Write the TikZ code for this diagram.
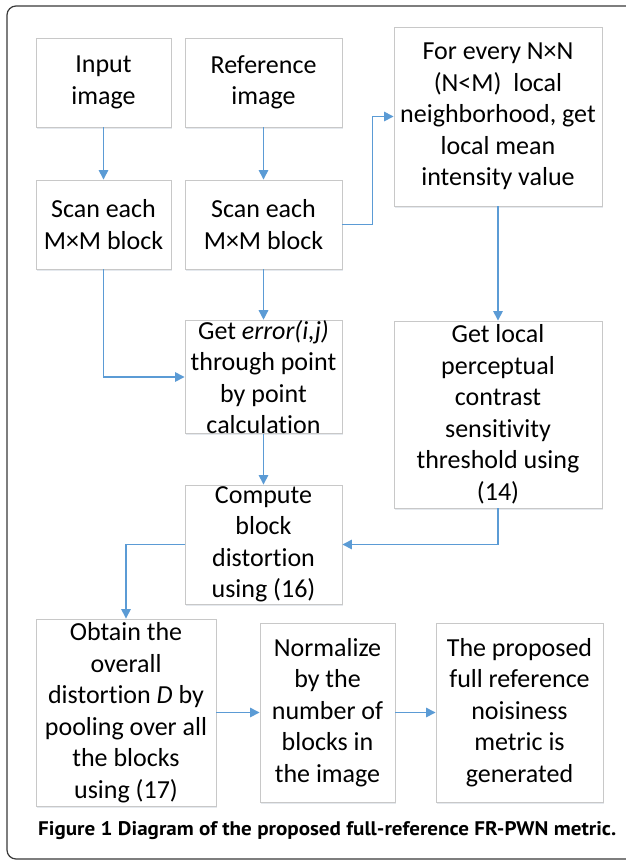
\documentclass[tikz,border=0pt]{standalone}
\usepackage{fontspec}
\setmainfont{Carlito}[RawFeature={-liga;-clig;-calt;-dlig}]
\newfontfamily\capfont{PT Sans}
\usetikzlibrary{arrows.meta,shadows}
\definecolor{arrowblue}{HTML}{5B9BD5}
\definecolor{boxgray}{HTML}{C8C8C8}
\definecolor{framegray}{HTML}{3A3A3A}
\begin{document}
\begin{tikzpicture}[x=1pt,y=-1pt,
  box/.style={draw=boxgray, line width=0.9pt, fill=white, inner sep=0pt, align=center,
    font=\fontsize{26}{31.5}\selectfont,
    drop shadow={shadow xshift=1pt, shadow yshift=-1.5pt, opacity=0.3, fill=arrowblue!40!gray!60}},
  conn/.style={draw=arrowblue, line width=1.4pt, -{Triangle[length=9.5pt,width=9.5pt]}}]
\useasboundingbox (0,0) rectangle (626,863);
\fill[white] (0,0) rectangle (626,863);
\draw[line width=1.2pt, draw=framegray, rounded corners=9pt] (7,6) rectangle (680,859);

\node[box, minimum width=135pt, minimum height=89pt] (input) at (103.5,82.5) {Input\\image};
\node[box, minimum width=157pt, minimum height=89pt] (ref) at (263.5,82.5) {Reference\\image};
\node[box, minimum width=208pt, minimum height=179pt] (forevery) at (498,116.5)
  {For every N×N\\(N<M)\ \ local\\neighborhood, get\\local mean\\intensity value};
\node[box, minimum width=135pt, minimum height=89pt] (scan1) at (103.5,224.5) {Scan each\\M×M block};
\node[box, minimum width=157pt, minimum height=89pt] (scan2) at (263.5,224.5) {Scan each\\M×M block};
\node[box, minimum width=157pt, minimum height=112pt] (geterr) at (263.5,377)
  {Get \textit{error(i,j)}\\through point\\by point\\calculation};
\node[box, minimum width=208pt, minimum height=187pt] (getlocal) at (498,414.5)
  {Get local\\perceptual\\contrast\\sensitivity\\threshold using\\(14)};
\node[box, minimum width=157pt, minimum height=119pt] (compute) at (263.5,544.5)
  {Compute\\block\\distortion\\using (16)};
\node[box, minimum width=180pt, minimum height=187pt] (obtain) at (126,712.5)
  {Obtain the\\overall\\distortion \textit{D} by\\pooling over all\\the blocks\\using (17)};
\node[box, minimum width=135pt, minimum height=179pt] (normalize) at (327.5,712.5)
  {Normalize\\by the\\number of\\blocks in\\the image};
\node[box, minimum width=167pt, minimum height=179pt] (proposed) at (519.5,712.5)
  {The proposed\\full reference\\noisiness\\metric is\\generated};

\draw[conn] (input) -- (scan1);
\draw[conn] (ref) -- (scan2);
\draw[conn] (scan2.east) -- ++(30,0) |- (forevery.west);
\draw[conn] (forevery) -- (getlocal);
\draw[conn] (scan1.south) |- (geterr.west);
\draw[conn] (scan2) -- (geterr);
\draw[conn] (geterr) -- (compute);
\draw[conn] (getlocal.south) |- (compute.east);
\draw[conn] (compute.west) -| (obtain.north);
\draw[conn] (obtain) -- (normalize);
\draw[conn] (normalize) -- (proposed);

\node[anchor=base west, inner sep=0pt] (caption) at (38,835)
  {\resizebox{578pt}{14pt}{\capfont\bfseries Figure 1 Diagram of the proposed full-reference FR-PWN metric.}};
\end{tikzpicture}
\end{document}
